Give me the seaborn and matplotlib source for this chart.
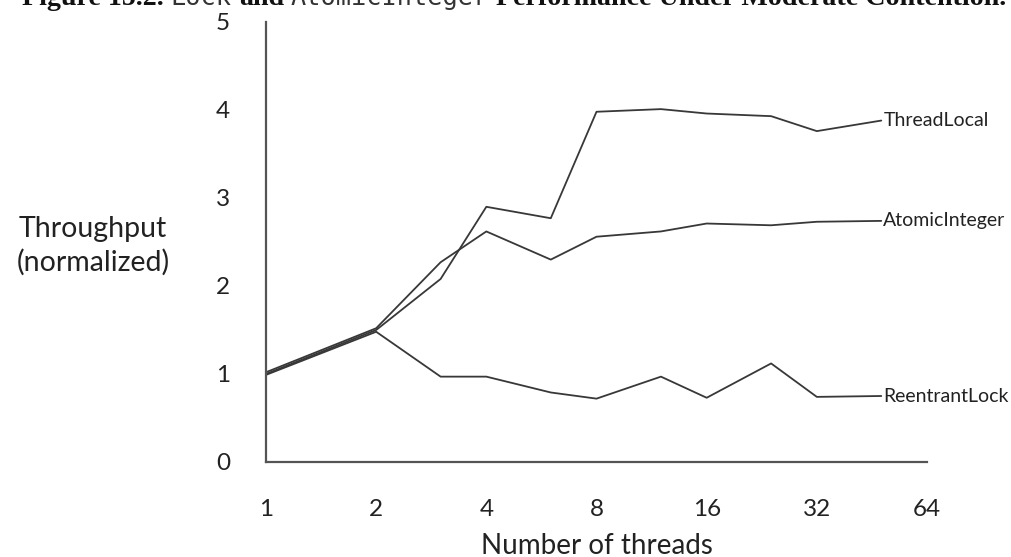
import numpy as np
import pandas as pd
import seaborn as sns
import matplotlib.pyplot as plt

# data
threads = [1, 2, 3, 4, 6, 8, 12, 16, 24, 32, 48]
thread_local = [1.00, 1.50, 2.08, 2.90, 2.77, 3.98, 4.01, 3.96, 3.93, 3.76, 3.88]
atomic_integer = [1.02, 1.52, 2.27, 2.62, 2.30, 2.56, 2.62, 2.71, 2.69, 2.73, 2.74]
reentrant_lock = [0.99, 1.48, 0.97, 0.97, 0.79, 0.72, 0.97, 0.73, 1.12, 0.74, 0.75]
series_names = ['ThreadLocal', 'AtomicInteger', 'ReentrantLock']
x_ticks = [1, 2, 4, 8, 16, 32, 64]
y_ticks = [0, 1, 2, 3, 4, 5]

df = pd.DataFrame({
    'threads': threads * 3,
    'throughput': thread_local + atomic_integer + reentrant_lock,
    'series': np.repeat(series_names, len(threads)),
})

W, H = 1011, 557
sns.set_style('white')
plt.rcParams['font.family'] = ['Lato', 'DejaVu Sans']

fig = plt.figure(figsize=(W / 100, H / 100), dpi=100)
ax = fig.add_axes([266 / W, 1 - 462 / H, (927 - 266) / W, 440 / H])

line_col = '#383838'
sns.lineplot(data=df, x='threads', y='throughput', hue='series',
             palette=[line_col] * 3, linewidth=1.3, legend=False, ax=ax)

ax.set_xscale('log', base=2)
ax.set_xlim(1, 64)
ax.set_ylim(0, 5)
ax.set_xticks(x_ticks)
ax.set_xticklabels([str(t) for t in x_ticks])
ax.set_yticks(y_ticks)
ax.minorticks_off()
for s in ['top', 'right']:
    ax.spines[s].set_visible(False)
for s in ['left', 'bottom']:
    ax.spines[s].set_color('#555555')
    ax.spines[s].set_linewidth(1.6)
ax.tick_params(axis='both', direction='out', length=20, width=1.3,
               color='#555555', labelsize=17.5, labelcolor='#222222')
ax.tick_params(axis='x', pad=7)
ax.tick_params(axis='y', pad=6)
ax.set_xlabel('Number of threads', fontsize=20, color='#222222', labelpad=9)
ax.set_ylabel('')

fig.text(93 / W, 1 - 246 / H, 'Throughput\n(normalized)', ha='center',
         va='center', fontsize=20.5, color='#222222', linespacing=1.3)

# labels at the line ends
ends = {'ThreadLocal': thread_local[-1], 'AtomicInteger': atomic_integer[-1],
        'ReentrantLock': reentrant_lock[-1]}
for name, val in ends.items():
    ax.annotate(name, xy=(threads[-1], val), xytext=(1.5, 0),
                textcoords='offset points', va='center', ha='left',
                fontsize=14, color='#222222', annotation_clip=False)

# title, mostly cut off at the top edge
parts = [('Figure 15.2.', 'serif'), ('Lock', 'mono'), ('and', 'serif'),
         ('AtomicInteger', 'mono'), ('Performance Under Moderate Contention.', 'serif')]
renderer = fig.canvas.get_renderer()
x = 22
for txt, kind in parts:
    if kind == 'serif':
        t = fig.text(x / W, 1 - 5 / H, txt, fontsize=20.2, fontweight='bold',
                     family=['Liberation Serif'], va='baseline', color='#111111')
    else:
        t = fig.text(x / W, 1 - 5 / H, txt, fontsize=18.2, family=['DejaVu Sans Mono'],
                     va='baseline', color='#333333')
    bb = t.get_window_extent(renderer)
    x = bb.x1 + 7

fig.savefig('out.png', dpi=100)
